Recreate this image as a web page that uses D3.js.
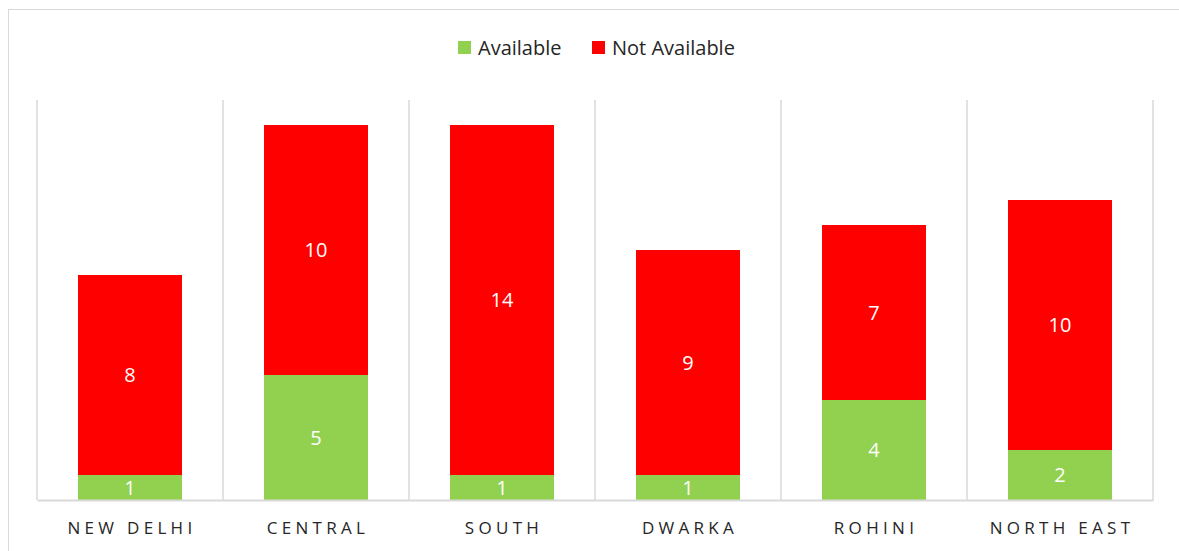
<!DOCTYPE html>
<html>
<head>
<meta charset="utf-8">
<script src="https://cdn.jsdelivr.net/npm/d3@7"></script>
<style>
  body { margin: 0; background: #fff; }
  text { font-family: "Open Sans", "Noto Sans", sans-serif; }
</style>
</head>
<body>
<div id="chart"></div>
<script>
const regions = ['NEW DELHI', 'CENTRAL', 'SOUTH', 'DWARKA', 'ROHINI', 'NORTH EAST'];
const available = [1, 5, 1, 1, 4, 2];
const notAvailable = [8, 10, 14, 9, 7, 10];
const seriesNames = ['Available', 'Not Available'];
const seriesColors = ['#92d050', '#ff0000'];

const width = 1179, height = 551;
const plot = { left: 37, right: 1153, top: 100, bottom: 500 };

const svg = d3.select('#chart').append('svg')
    .attr('width', width)
    .attr('height', height);

// chart frame
svg.append('rect')
    .attr('x', 8.5).attr('y', 9.5)
    .attr('width', 1300).attr('height', 700)
    .attr('fill', 'none')
    .attr('stroke', '#d9d9d9');

const rows = regions.map((r, i) => ({ region: r, 'Available': available[i], 'Not Available': notAvailable[i] }));
const stacked = d3.stack().keys(seriesNames)(rows);

const x = d3.scaleBand()
    .domain(regions)
    .range([plot.left, plot.right])
    .paddingInner(0)
    .paddingOuter(0);

const y = d3.scaleLinear()
    .domain([0, 16])
    .range([plot.bottom, plot.top]);

// vertical gridlines at category boundaries
const bounds = regions.map(r => x(r)).concat([plot.right]);
svg.append('g')
    .selectAll('line')
    .data(bounds)
    .join('line')
    .attr('x1', d => d).attr('x2', d => d)
    .attr('y1', plot.top).attr('y2', plot.bottom)
    .attr('stroke', '#d9d9d9')
    .attr('stroke-width', 1.5);

const barW = 104;
const color = d3.scaleOrdinal().domain(seriesNames).range(seriesColors);

const layers = svg.append('g')
    .selectAll('g')
    .data(stacked)
    .join('g')
    .attr('fill', d => color(d.key));

layers.selectAll('rect')
    .data(d => d)
    .join('rect')
    .attr('x', d => x(d.data.region) + x.bandwidth() / 2 - barW / 2)
    .attr('y', d => y(d[1]))
    .attr('width', barW)
    .attr('height', d => y(d[0]) - y(d[1]));

layers.selectAll('text')
    .data(d => d)
    .join('text')
    .attr('x', d => x(d.data.region) + x.bandwidth() / 2)
    .attr('y', d => (y(d[0]) + y(d[1])) / 2)
    .attr('dy', '0.36em')
    .attr('text-anchor', 'middle')
    .attr('fill', '#fff')
    .attr('font-size', 20)
    .text(d => d[1] - d[0]);

// baseline axis
const xAxis = svg.append('g')
    .attr('transform', `translate(0,${plot.bottom})`)
    .call(d3.axisBottom(x).tickSize(0).tickPadding(22));
xAxis.select('.domain').attr('stroke', '#d9d9d9').attr('stroke-width', 2);
xAxis.selectAll('text')
    .attr('font-family', '"Open Sans", sans-serif')
    .attr('font-size', 17)
    .attr('letter-spacing', '4.3px')
    .attr('dx', '2px')
    .attr('fill', '#262626');

// legend
const legend = svg.append('g');
const legendX = [458, 592];
seriesNames.forEach((name, i) => {
    legend.append('rect')
        .attr('x', legendX[i]).attr('y', 41)
        .attr('width', 13).attr('height', 13)
        .attr('fill', seriesColors[i]);
    legend.append('text')
        .attr('x', legendX[i] + 20).attr('y', 55)
        .attr('font-size', 20)
        .attr('fill', '#262626')
        .text(name);
});
</script>
</body>
</html>
